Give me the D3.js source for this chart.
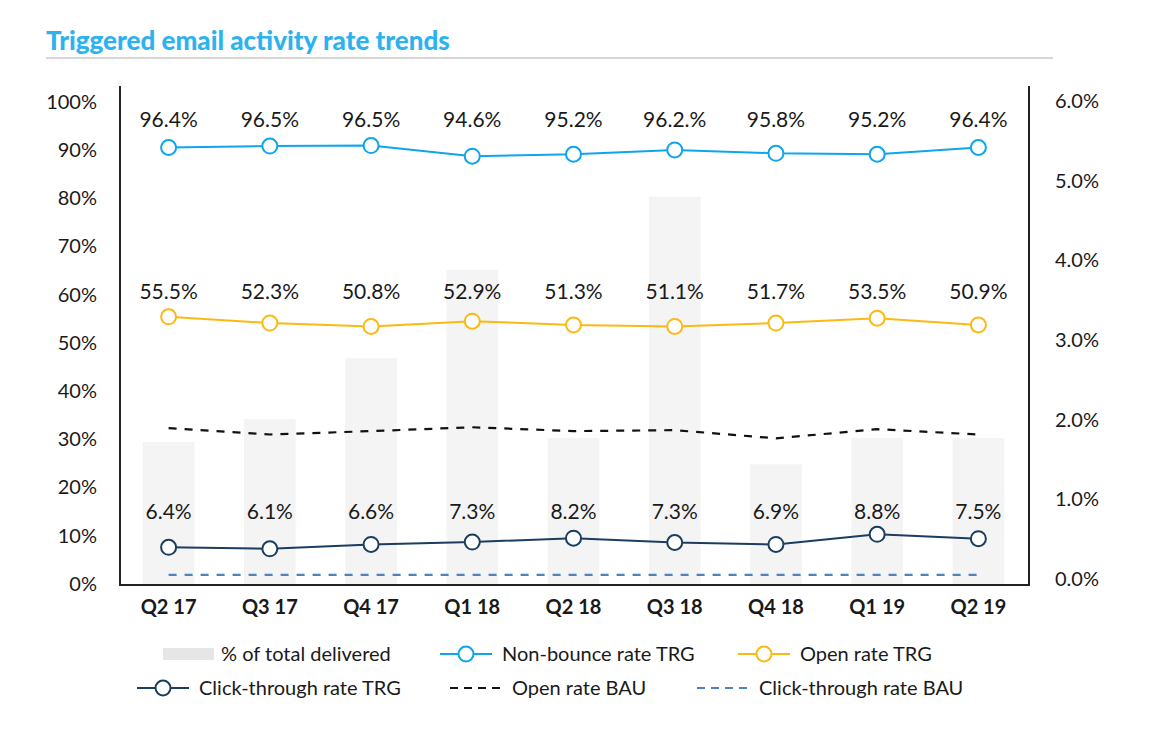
<!DOCTYPE html>
<html>
<head>
<meta charset="utf-8">
<script src="https://cdn.jsdelivr.net/npm/d3@7"></script>
<style>
  html, body { margin: 0; padding: 0; background: #fff; }
  svg text { font-family: Lato, "Open Sans", sans-serif; fill: #1a1a1a; }
</style>
</head>
<body>
<div id="chart"></div>
<script>
// quarters on the x axis
const quarters = ['Q2 17', 'Q3 17', 'Q4 17', 'Q1 18', 'Q2 18', 'Q3 18', 'Q4 18', 'Q1 19', 'Q2 19'];

// % of total delivered (right axis)
const deliveredShare = [1.72, 2.01, 2.77, 3.88, 1.77, 4.8, 1.44, 1.77, 1.77];

// plotted positions of the lines (left axis)
const nonBounceTRG = [90.5, 90.8, 90.9, 88.7, 89.1, 90.0, 89.3, 89.1, 90.5];
const openTRG = [55.4, 54.1, 53.4, 54.5, 53.7, 53.4, 54.1, 55.1, 53.7];
const ctrTRG = [7.6, 7.3, 8.2, 8.7, 9.5, 8.6, 8.2, 10.3, 9.4];
const openBAU = [32.3, 31.0, 31.7, 32.5, 31.7, 31.9, 30.2, 32.1, 31.0];
const ctrBAU = [1.9, 1.9, 1.9, 1.9, 1.9, 1.9, 1.9, 1.9, 1.9];

// printed data labels
const nonBounceLabels = ['96.4%', '96.5%', '96.5%', '94.6%', '95.2%', '96.2.%', '95.8%', '95.2%', '96.4%'];
const openLabels = ['55.5%', '52.3%', '50.8%', '52.9%', '51.3%', '51.1%', '51.7%', '53.5%', '50.9%'];
const ctrLabels = ['6.4%', '6.1%', '6.6%', '7.3%', '8.2%', '7.3%', '6.9%', '8.8%', '7.5%'];

// tick labels
const leftTicks = [0, 10, 20, 30, 40, 50, 60, 70, 80, 90, 100];
const rightTicks = [0, 1, 2, 3, 4, 5, 6];

const W = 1152, H = 737;
const plot = { left: 120, right: 1029, top: 86, bottom: 585 };

const svg = d3.select('#chart').append('svg').attr('width', W).attr('height', H);

// title
svg.append('text')
  .attr('x', 46).attr('y', 50)
  .style('font-size', '26px').style('font-weight', 900)
  .style('fill', '#2db2f0')
  .text('Triggered email activity rate trends');
svg.append('line')
  .attr('x1', 46).attr('x2', 1053).attr('y1', 58).attr('y2', 58)
  .attr('stroke', '#c8c8c8').attr('stroke-width', 1.5);

const x = d3.scaleBand().domain(quarters).range([118, 1029]).paddingInner(0.49).paddingOuter(0.245);
const cx = (i) => x(quarters[i]) + x.bandwidth() / 2;
const yL = d3.scaleLinear().domain([0, 100]).range([584, 101.7]);
const yR = d3.scaleLinear().domain([0, 6]).range([579, 101]);

// bars
svg.append('g').selectAll('rect')
  .data(deliveredShare)
  .enter().append('rect')
  .attr('x', (d, i) => x(quarters[i]))
  .attr('width', x.bandwidth())
  .attr('y', (d) => yR(d))
  .attr('height', (d) => plot.bottom - yR(d))
  .attr('fill', '#f4f4f4');

// axes
const axL = d3.axisLeft(yL).tickValues(leftTicks).tickSize(0).tickPadding(23).tickFormat((d) => d + '%');
const gL = svg.append('g').attr('transform', `translate(${plot.left},0)`).call(axL);
gL.select('.domain').remove();
const axR = d3.axisRight(yR).tickValues(rightTicks).tickSize(0).tickPadding(26).tickFormat((d) => d.toFixed(1) + '%');
const gR = svg.append('g').attr('transform', `translate(${plot.right},0)`).call(axR);
gR.select('.domain').remove();
svg.selectAll('.tick text').style('font-size', '20px').style('font-family', 'Lato, sans-serif').attr('fill', '#1a1a1a');

const axB = d3.axisBottom(x).tickSize(0).tickPadding(15);
const gB = svg.append('g').attr('transform', `translate(0,${plot.bottom})`).call(axB);
gB.select('.domain').remove();
gB.selectAll('text').style('font-size', '20px').style('font-weight', 700).style('font-family', 'Lato, sans-serif').attr('fill', '#1a1a1a');

// frame: left, right and bottom lines
svg.append('path')
  .attr('d', `M${plot.left},${plot.top}V${plot.bottom}H${plot.right}V${plot.top}`)
  .attr('fill', 'none').attr('stroke', '#222').attr('stroke-width', 2);

const line = d3.line().x((d, i) => cx(i)).y((d) => yL(d));

// BAU dashed lines
svg.append('path').datum(openBAU).attr('d', line)
  .attr('fill', 'none').attr('stroke', '#111').attr('stroke-width', 2.2).attr('stroke-dasharray', '8,8');
svg.append('path').datum(ctrBAU).attr('d', line)
  .attr('fill', 'none').attr('stroke', '#4f81bd').attr('stroke-width', 2.2).attr('stroke-dasharray', '8,8');

// TRG lines with markers and labels
const series = [
  { values: nonBounceTRG, labels: nonBounceLabels, color: '#0ea5ec' },
  { values: openTRG, labels: openLabels, color: '#fdb913' },
  { values: ctrTRG, labels: ctrLabels, color: '#1b3d5f' }
];

series.forEach((s) => {
  svg.append('path').datum(s.values).attr('d', line)
    .attr('fill', 'none').attr('stroke', s.color).attr('stroke-width', 2);
  svg.append('g').selectAll('circle')
    .data(s.values).enter().append('circle')
    .attr('cx', (d, i) => cx(i)).attr('cy', (d) => yL(d)).attr('r', 7.5)
    .attr('fill', '#fff').attr('stroke', s.color).attr('stroke-width', 2);
  const rowY = yL(d3.mean(s.values)) - 31;
  svg.append('g').selectAll('text')
    .data(s.labels).enter().append('text')
    .attr('x', (d, i) => cx(i)).attr('y', rowY).attr('dy', '0.35em')
    .attr('text-anchor', 'middle')
    .style('font-size', '21px')
    .text((d) => d);
});

// legend
const legend = [
  { label: '% of total delivered', kind: 'bar', color: '#e6e6e6', x: 163, y: 654 },
  { label: 'Non-bounce rate TRG', kind: 'marker', color: '#0ea5ec', x: 440, y: 654 },
  { label: 'Open rate TRG', kind: 'marker', color: '#fdb913', x: 738, y: 654 },
  { label: 'Click-through rate TRG', kind: 'marker', color: '#1b3d5f', x: 137, y: 688 },
  { label: 'Open rate BAU', kind: 'dash', color: '#111', x: 450, y: 688 },
  { label: 'Click-through rate BAU', kind: 'dash', color: '#4f81bd', x: 697, y: 688 }
];

const lg = svg.append('g').selectAll('g').data(legend).enter().append('g')
  .attr('transform', (d) => `translate(${d.x},${d.y})`);
lg.filter((d) => d.kind === 'bar').append('rect')
  .attr('x', 0).attr('y', -6).attr('width', 51).attr('height', 12).attr('fill', (d) => d.color);
lg.filter((d) => d.kind !== 'bar').append('line')
  .attr('x1', 0).attr('x2', 52).attr('y1', 0).attr('y2', 0)
  .attr('stroke', (d) => d.color).attr('stroke-width', 2)
  .attr('stroke-dasharray', (d) => (d.kind === 'dash' ? '8,6' : null));
lg.filter((d) => d.kind === 'marker').append('circle')
  .attr('cx', 26).attr('cy', 0).attr('r', 7.5)
  .attr('fill', '#fff').attr('stroke', (d) => d.color).attr('stroke-width', 2);
lg.append('text')
  .attr('x', (d) => (d.kind === 'bar' ? 58 : 62)).attr('y', 0).attr('dy', '0.35em')
  .style('font-size', '20px')
  .text((d) => d.label);
</script>
</body>
</html>
